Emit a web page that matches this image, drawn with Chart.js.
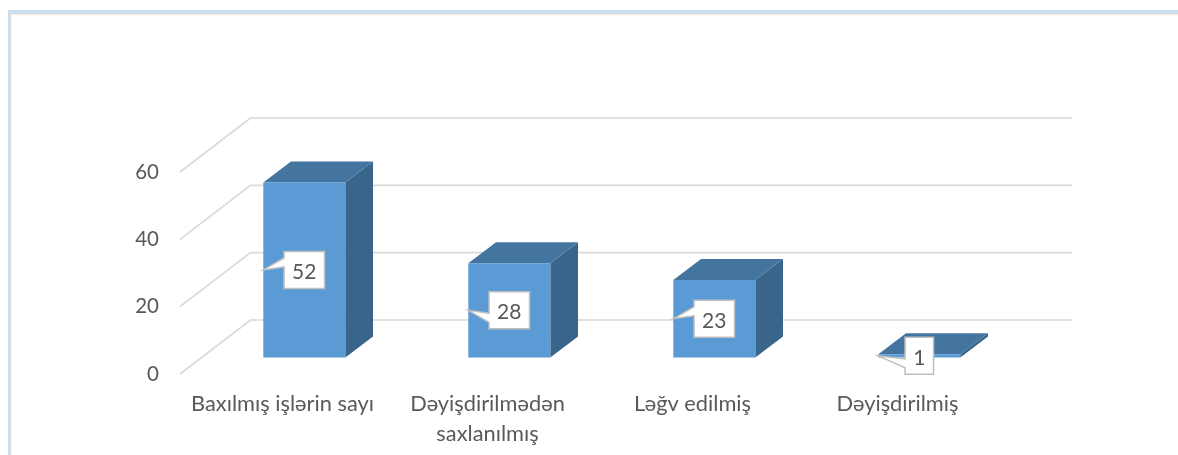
<!DOCTYPE html>
<html><head><meta charset="utf-8">
<style>html,body{margin:0;padding:0;background:#fff;overflow:hidden}canvas{display:block}</style>
<script src="https://cdn.jsdelivr.net/npm/chart.js@4"></script>
</head><body><canvas id="c" width="1178" height="455"></canvas>
<script>
const categories = ["Baxılmış işlərin sayı", ["Dəyişdirilmədən", "saxlanılmış"], "Ləğv edilmiş", "Dəyişdirilmiş"];
const values = [52, 28, 23, 1];
const yTicks = [0, 20, 40, 60];

const FONT = "Lato, Carlito, sans-serif";
const TEXT = "#595959";
const WALL = {dx: 70.5, dy: 54};
const BAR_SHIFT = {dx: 21.8, dy: 16.5};
const BAR_DEPTH = {dx: 27.7, dy: 21};
const POINTER = [[-12, -3], [3, 12], [-12, -3], [3, 12]];
const BOX_H = 37;

const frame = {
  id: 'frame',
  beforeDraw(chart) {
    const c = chart.ctx, w = chart.width, h = chart.height;
    c.save();
    c.fillStyle = '#fff'; c.fillRect(0, 0, w, h);
    c.fillStyle = '#c9dff2';
    c.fillRect(8, 10, w - 8, 3); c.fillRect(8, 10, 2, h - 10);
    c.fillStyle = '#dcdcdc';
    c.fillRect(10, 13, w - 10, 1.5); c.fillRect(10, 13, 1.2, h - 13);
    c.restore();
  }
};

const box3d = {
  id: 'box3d',
  beforeDatasetsDraw(chart) {
    const c = chart.ctx, y = chart.scales.y, a = chart.chartArea;
    c.save();
    c.strokeStyle = '#d9d9d9'; c.lineWidth = 1.6;
    yTicks.forEach(t => {
      const p = y.getPixelForValue(t);
      c.beginPath();
      c.moveTo(a.left, p);
      c.lineTo(a.left + WALL.dx, p - WALL.dy);
      c.lineTo(a.right + WALL.dx + 1.5, p - WALL.dy);
      c.stroke();
    });
    c.restore();
    c.save();
    c.translate(BAR_SHIFT.dx, -BAR_SHIFT.dy);
    chart.getDatasetMeta(0).data.forEach(b => {
      const l = b.x - b.width / 2, r = b.x + b.width / 2;
      c.fillStyle = '#39658A';
      c.beginPath();
      c.moveTo(r, b.y); c.lineTo(r + BAR_DEPTH.dx, b.y - BAR_DEPTH.dy);
      c.lineTo(r + BAR_DEPTH.dx, b.base - BAR_DEPTH.dy); c.lineTo(r, b.base);
      c.closePath(); c.fill();
      c.fillStyle = '#4475A1';
      c.beginPath();
      c.moveTo(l, b.y); c.lineTo(l + BAR_DEPTH.dx, b.y - BAR_DEPTH.dy);
      c.lineTo(r + BAR_DEPTH.dx, b.y - BAR_DEPTH.dy); c.lineTo(r, b.y);
      c.closePath(); c.fill();
    });
  },
  afterDatasetsDraw(chart) {
    const c = chart.ctx;
    c.font = "21px " + FONT;
    c.textAlign = 'center'; c.textBaseline = 'middle';
    chart.getDatasetMeta(0).data.forEach((b, i) => {
      const l = b.x - b.width / 2, cy = (b.y + b.base) / 2;
      const txt = String(values[i]);
      const bw = txt.length > 1 ? 40.5 : 28.5;
      const bl = b.x - bw / 2, bt = cy - BOX_H / 2;
      const [p1, p2] = POINTER[i];
      c.beginPath();
      c.moveTo(bl, bt);
      c.lineTo(bl + bw, bt);
      c.lineTo(bl + bw, bt + BOX_H);
      c.lineTo(bl, bt + BOX_H);
      c.lineTo(bl, cy + p2);
      c.lineTo(l, cy);
      c.lineTo(bl, cy + p1);
      c.closePath();
      c.fillStyle = '#fff'; c.fill();
      c.strokeStyle = '#bfbfbf'; c.lineWidth = 1.5; c.stroke();
      c.fillStyle = TEXT;
      c.fillText(txt, b.x, cy + 2);
    });
    c.restore();
  }
};

new Chart(document.getElementById('c'), {
  type: 'bar',
  data: {
    labels: categories,
    datasets: [{
      data: values,
      backgroundColor: '#5B9BD5',
      borderWidth: 0,
      barPercentage: 0.4,
      categoryPercentage: 1,
      clip: false
    }]
  },
  plugins: [frame, box3d],
  options: {
    responsive: false,
    animation: false,
    layout: {padding: {left: 0, right: 178, top: 172, bottom: 0}},
    plugins: {legend: {display: false}, tooltip: {enabled: false}},
    scales: {
      x: {
        grid: {display: false, drawTicks: false},
        border: {display: false},
        afterFit(s) { s.height = 81; },
        ticks: {
          maxRotation: 0, autoSkip: false, padding: 15, color: TEXT,
          font: {family: FONT, size: 21.8, lineHeight: 1.38}
        }
      },
      y: {
        min: 0, max: 60,
        grid: {display: false, drawTicks: false},
        border: {display: false},
        afterFit(s) { s.width = 180; },
        afterBuildTicks(s) { s.ticks = yTicks.map(v => ({value: v})); },
        ticks: {padding: 21, color: TEXT, font: {family: FONT, size: 20.5}}
      }
    }
  }
});
</script></body></html>
